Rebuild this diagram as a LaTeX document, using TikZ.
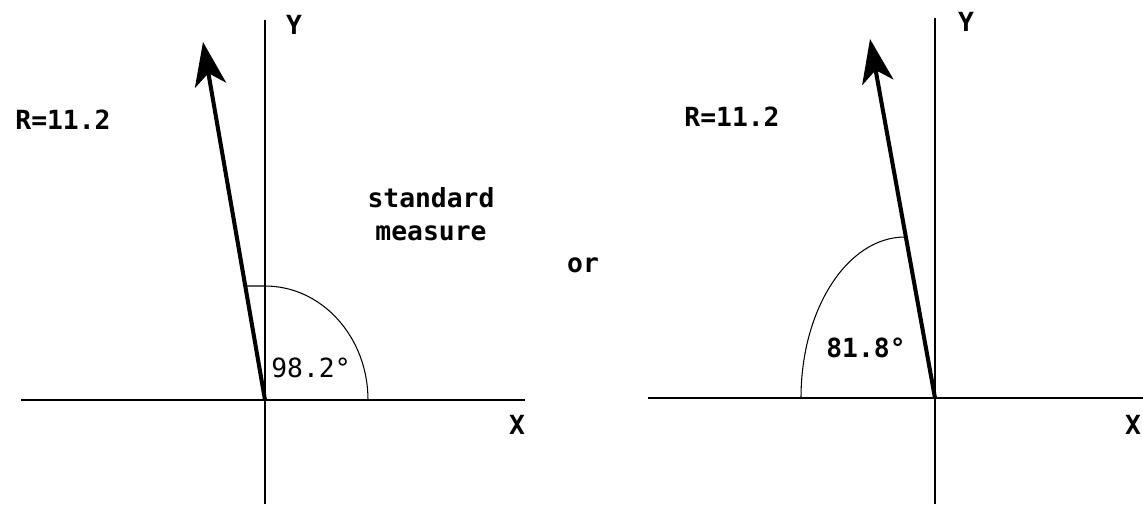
\documentclass[tikz,border=0pt]{standalone}
\usepackage{fontspec}
\newfontfamily\labelfont{DejaVu Sans Mono}
\usetikzlibrary{arrows.meta}

\begin{document}
\begin{tikzpicture}[
  x=0.02cm, y=0.02cm,
  axis/.style={line width=1.1pt},
  vec/.style={-{Stealth[length=25pt,width=18pt,inset=7pt]},line width=2.3pt},
  ang/.style={line width=0.6pt},
  lbl/.style={font=\labelfont\bfseries\fontsize{15}{19}\selectfont,inner sep=0pt,align=center},
  num/.style={font=\labelfont\fontsize{15}{19}\selectfont,inner sep=0pt}
]
\useasboundingbox (0,0) rectangle (1143,504);

% left: standard measure
\coordinate (o1) at (265,104);
\coordinate (xl1) at (21,104);
\coordinate (xr1) at (525,104);
\coordinate (yt1) at (265,484);
\coordinate (yb1) at (265,0);
\coordinate (tip1) at (203,462);
\coordinate (a1) at (368,104);
\coordinate (m1) at (246,218);
\draw[axis] (xl1) -- (xr1);
\draw[axis] (yb1) -- (yt1);
\draw[vec] (o1) -- (tip1);
\draw[ang] (a1) arc[start angle=0,end angle=90,x radius=103,y radius=114] -- (m1);
\node[lbl] (ylab1) at (294,479) {Y};
\node[lbl] (xlab1) at (517,79) {X};
\node[lbl] (r1) at (63,384) {R=11.2};
\node[lbl] (std) at (431,290) {standard\\measure};
\node[num] (t1) at (311,136) {98.2°};

\node[lbl] (or) at (583,239) {or};

% right: reference angle
\coordinate (o2) at (935,106);
\coordinate (xl2) at (648,106);
\coordinate (xr2) at (1143,106);
\coordinate (yt2) at (935,486);
\coordinate (yb2) at (935,0);
\coordinate (tip2) at (870,465);
\coordinate (a2) at (801,106);
\draw[axis] (xl2) -- (xr2);
\draw[axis] (yb2) -- (yt2);
\draw[vec] (o2) -- (tip2);
\draw[ang] (a2) arc[start angle=180,end angle=90,x radius=104,y radius=161];
\node[lbl] (ylab2) at (966,482) {Y};
\node[lbl] (xlab2) at (1133,79) {X};
\node[lbl] (r2) at (732,387) {R=11.2};
\node[lbl] (t2) at (866,156) {81.8°};
\end{tikzpicture}
\end{document}
